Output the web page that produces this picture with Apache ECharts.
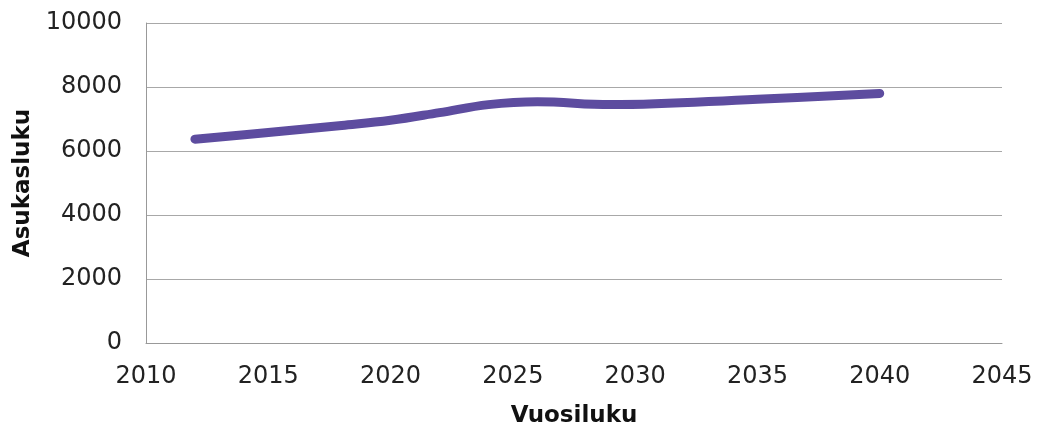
<!DOCTYPE html>
<html>
<head>
<meta charset="utf-8">
<script src="https://cdn.jsdelivr.net/npm/echarts@6/dist/echarts.min.js"></script>
<style>
  html, body { margin: 0; padding: 0; background: #fff; }
  #chart { width: 1064px; height: 430px; }
</style>
</head>
<body>
<div id="chart"></div>
<script>
// data
var years = [2012, 2015, 2018, 2020, 2022, 2024, 2026, 2029, 2035, 2040]
var residents = [6370, 6580, 6800, 6960, 7200, 7450, 7540, 7450, 7620, 7800]
var xTicks = { min: 2010, max: 2045, step: 5 }
var yTicks = { min: 0, max: 10000, step: 2000 }

var pts = years.map(function (y, i) { return [y, residents[i]] })

var chart = echarts.init(document.getElementById("chart"))
var font = "DejaVu Sans"
chart.setOption({
  animation: false,
  grid: { left: 146, right: 62, top: 23, bottom: 87, containLabel: false, outerBoundsMode: "none" },
  xAxis: {
    type: "value",
    min: xTicks.min, max: xTicks.max, interval: xTicks.step,
    name: "Vuosiluku",
    nameLocation: "middle",
    nameGap: 62,
    nameTextStyle: { fontFamily: font, fontSize: 23, fontWeight: "bold", color: "#111" },
    axisLine: { show: true, lineStyle: { color: "#999", width: 1 } },
    axisTick: { show: false },
    splitLine: { show: false },
    axisLabel: { fontFamily: font, fontSize: 24, color: "#222", margin: 22,
      formatter: function (v) { return String(v) } }
  },
  yAxis: {
    type: "value",
    min: yTicks.min, max: yTicks.max, interval: yTicks.step,
    name: "Asukasluku",
    nameLocation: "middle",
    nameGap: 106,
    nameTextStyle: { fontFamily: font, fontSize: 23, fontWeight: "bold", color: "#111" },
    axisLine: { show: true, lineStyle: { color: "#999", width: 1 } },
    axisTick: { show: false },
    splitLine: { show: true, lineStyle: { color: "#a8a8a8", width: 1 } },
    axisLabel: { fontFamily: font, fontSize: 24, color: "#222", margin: 24,
      formatter: function (v) { return String(v) } }
  },
  series: [{
    type: "line",
    data: pts,
    smooth: 0.4,
    showSymbol: false,
    lineStyle: { color: "#5d4c9f", width: 9, cap: "round", join: "round" }
  }]
})
</script>
</body>
</html>
